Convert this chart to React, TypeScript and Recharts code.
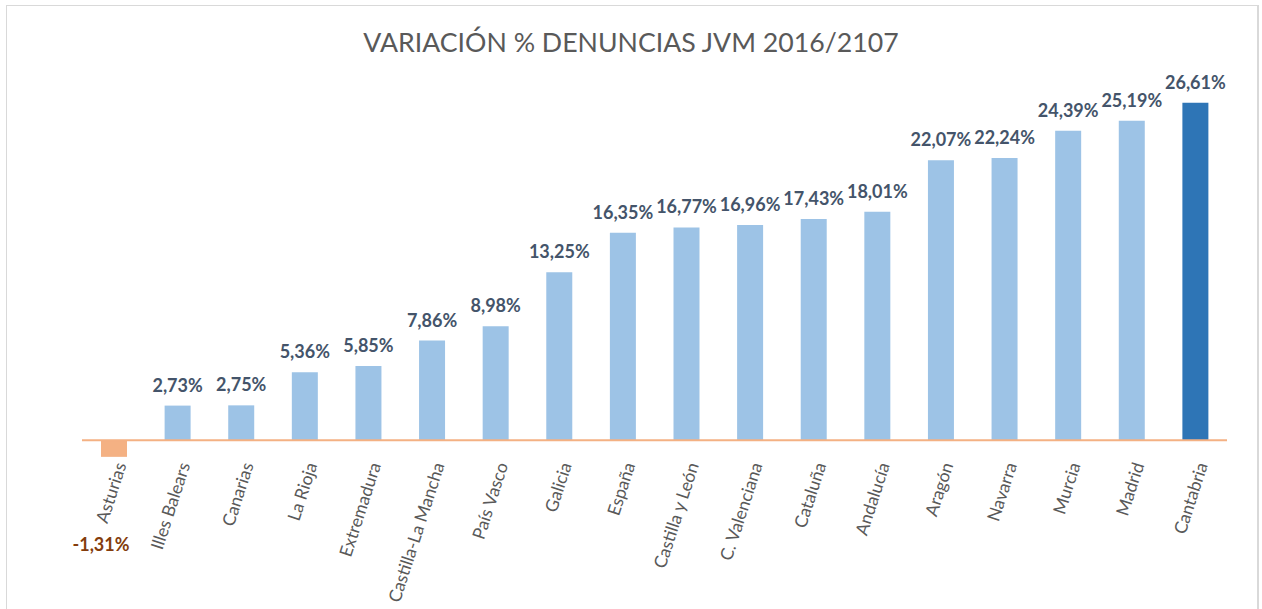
import { BarChart, Bar, XAxis, YAxis, Cell, LabelList, ReferenceLine } from 'recharts';

const regions = [
	'Asturias',
	'Illes Balears',
	'Canarias',
	'La Rioja',
	'Extremadura',
	'Castilla-La Mancha',
	'País Vasco',
	'Galicia',
	'España',
	'Castilla y León',
	'C. Valenciana',
	'Cataluña',
	'Andalucía',
	'Aragón',
	'Navarra',
	'Murcia',
	'Madrid',
	'Cantabria',
];
const variation = [
	-1.31, 2.73, 2.75, 5.36, 5.85, 7.86, 8.98, 13.25, 16.35, 16.77, 16.96, 17.43, 18.01, 22.07, 22.24,
	24.39, 25.19, 26.61,
];
const highlighted = 'Cantabria';

const data = regions.map((name, i) => ({ name, value: variation[i] }));

const fmt = (v: number) => v.toFixed(2).replace('.', ',') + '%';

function CategoryTick({ x, y, payload }: any) {
	const ax = x + 7;
	const ay = y - 3;
	return (
		<text
			x={ax}
			y={ay}
			dy="0.35em"
			textAnchor="end"
			transform={`rotate(-72, ${ax}, ${ay})`}
			fill="#595959"
			fontSize={17.5}
			fontFamily="Lato">
			{payload.value}
		</text>
	);
}

function ValueLabel({ x, y, width, height, value }: any) {
	const neg = value < 0;
	const cx = x + width / 2;
	const ty = neg ? y + height + 111 : y - 14;
	return (
		<text
			x={neg ? cx - 13 : cx}
			y={ty}
			textAnchor="middle"
			fill={neg ? '#843c0c' : '#44546a'}
			fontSize={18}
			fontWeight="bold"
			fontFamily="Lato">
			{fmt(value)}
		</text>
	);
}

export default function App() {
	return (
		<div style={{ position: 'absolute', left: 0, top: 0, width: 1262, height: 609, background: '#fff' }}>
			<div
				style={{
					position: 'absolute',
					left: 6,
					top: 5,
					width: 1250,
					height: 620,
					border: '1px solid #d9d9d9',
					borderRightWidth: 2,
				}}
			/>
			<div
				style={{
					position: 'absolute',
					left: 0,
					top: 26,
					width: 1262,
					textAlign: 'center',
					fontFamily: 'Lato',
					fontSize: 26.7,
					color: '#595959',
				}}>
				VARIACIÓN % DENUNCIAS JVM 2016/2107
			</div>
			<div style={{ position: 'absolute', left: 0, top: 0 }}>
				<BarChart width={1262} height={609} data={data} margin={{ top: 85, right: 35, left: 82, bottom: 0 }}>
					<XAxis
						dataKey="name"
						height={151}
						axisLine={false}
						tickLine={false}
						interval={0}
						tick={<CategoryTick />}
					/>
					<YAxis hide domain={[-1.4, 28]} />
					<ReferenceLine y={0} stroke="#f4b183" strokeWidth={2} />
					<Bar dataKey="value" barSize={26} isAnimationActive={false}>
						{data.map((d) => (
							<Cell
								key={d.name}
								fill={d.value < 0 ? '#f4b183' : d.name === highlighted ? '#2e75b6' : '#9dc3e6'}
							/>
						))}
						<LabelList dataKey="value" content={<ValueLabel />} />
					</Bar>
				</BarChart>
			</div>
		</div>
	);
}
